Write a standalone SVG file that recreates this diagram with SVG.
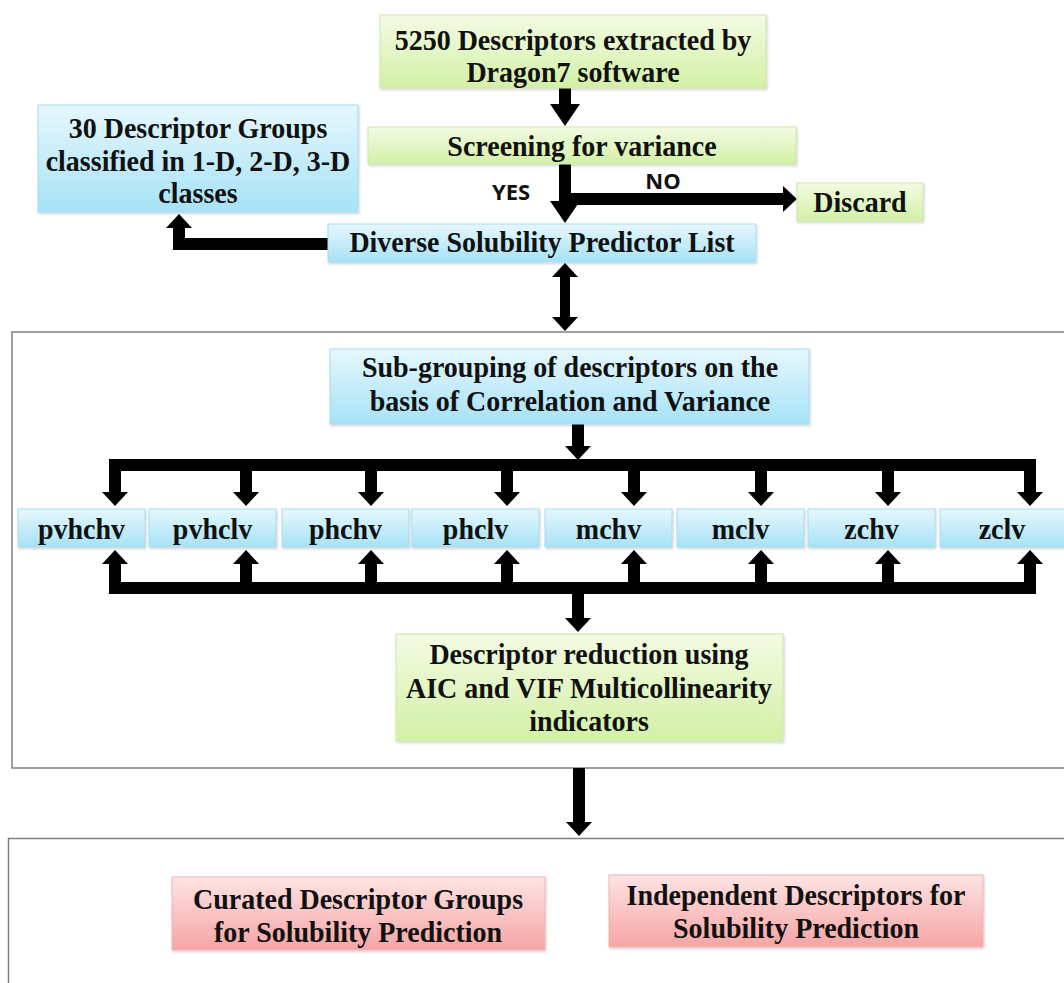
<svg xmlns="http://www.w3.org/2000/svg" width="1064" height="983" viewBox="0 0 1064 983">
  <style>
    .t { font-family: "Liberation Serif", "Times New Roman", serif; font-weight: bold; font-size: 28px; fill: #111; text-anchor: middle; }
    .s { font-family: "Open Sans", "Liberation Sans", sans-serif; font-weight: bold; font-size: 22px; fill: #111; text-anchor: middle; }
    .frame { fill: #fff; stroke: #7f7f7f; stroke-width: 1.5; }
    .green { fill: url(#gGreen); stroke: #cfe6a8; stroke-width: 1; filter: url(#sh); }
    .blue { fill: url(#gBlue); stroke: #a9dcef; stroke-width: 1; filter: url(#sh); }
    .pink { fill: url(#gPink); stroke: #f0b4b4; stroke-width: 1; filter: url(#sh); }
    .c { fill: none; stroke: #000; stroke-width: 12; stroke-linejoin: miter; stroke-linecap: butt; }
  </style>
  <defs>
    <linearGradient id="gGreen" x1="0" y1="0" x2="0" y2="1">
      <stop offset="0" stop-color="#f3fbe3"/>
      <stop offset="1" stop-color="#d3f0a6"/>
    </linearGradient>
    <linearGradient id="gBlue" x1="0" y1="0" x2="0" y2="1">
      <stop offset="0" stop-color="#e6f7fd"/>
      <stop offset="1" stop-color="#a6e2f6"/>
    </linearGradient>
    <linearGradient id="gPink" x1="0" y1="0" x2="0" y2="1">
      <stop offset="0" stop-color="#fde4e4"/>
      <stop offset="1" stop-color="#f6a4a4"/>
    </linearGradient>
    <filter id="sh" x="-5%" y="-10%" width="110%" height="130%">
      <feDropShadow dx="1" dy="1.5" stdDeviation="1" flood-color="#000" flood-opacity="0.18"/>
    </filter>
    <marker id="ah" viewBox="0 -13 14 26" refX="0" refY="0" markerWidth="14" markerHeight="26" markerUnits="userSpaceOnUse" orient="auto-start-reverse">
      <path d="M0,-13 L14,0 L0,13 Z" fill="#000"/>
    </marker>
    <marker id="ahb" viewBox="0 -15 22 30" refX="0" refY="0" markerWidth="22" markerHeight="30" markerUnits="userSpaceOnUse" orient="auto-start-reverse">
      <path d="M0,-15 L22,0 L0,15 Z" fill="#000"/>
    </marker>
  </defs>

  <rect width="1064" height="983" fill="#fff"/>

  <!-- stage frames -->
  <g id="frames">
    <rect class="frame" x="12" y="332" width="1080" height="436"/>
    <rect class="frame" x="8.5" y="838.5" width="1080" height="170"/>
  </g>

  <!-- connectors -->
  <g id="connectors">
    <path class="c" d="M565,88 V104" marker-end="url(#ahb)"/>
    <path class="c" d="M565,164 V201" marker-end="url(#ahb)"/>
    <path class="c" d="M565,199 H783" marker-end="url(#ah)"/>
    <path class="c" d="M328,244 H179 V228" marker-end="url(#ah)"/>
    <path class="c" style="stroke-width:10" d="M565,277 V317" marker-start="url(#ah)" marker-end="url(#ah)"/>
    <path class="c" d="M578,424 V446" marker-end="url(#ah)"/>
    <!-- distribution bus -->
    <path class="c" d="M115,492 V465 H1030 V492" marker-start="url(#ah)" marker-end="url(#ah)"/>
    <path class="c" d="M246,465 V492" marker-end="url(#ah)"/>
    <path class="c" d="M371,465 V492" marker-end="url(#ah)"/>
    <path class="c" d="M507,465 V492" marker-end="url(#ah)"/>
    <path class="c" d="M634,465 V492" marker-end="url(#ah)"/>
    <path class="c" d="M761,465 V492" marker-end="url(#ah)"/>
    <path class="c" d="M888,465 V492" marker-end="url(#ah)"/>
    <!-- collection bus -->
    <path class="c" d="M115,564 V588 H1030 V564" marker-start="url(#ah)" marker-end="url(#ah)"/>
    <path class="c" d="M246,588 V564" marker-end="url(#ah)"/>
    <path class="c" d="M371,588 V564" marker-end="url(#ah)"/>
    <path class="c" d="M507,588 V564" marker-end="url(#ah)"/>
    <path class="c" d="M634,588 V564" marker-end="url(#ah)"/>
    <path class="c" d="M761,588 V564" marker-end="url(#ah)"/>
    <path class="c" d="M888,588 V564" marker-end="url(#ah)"/>
    <path class="c" d="M578,588 V618" marker-end="url(#ah)"/>
    <path class="c" d="M579,768 V822" marker-end="url(#ah)"/>
    <text class="s" x="511" y="200">YES</text>
    <text class="s" x="663" y="189">NO</text>
  </g>

  <!-- nodes -->
  <g id="n-extract">
    <rect class="green" x="380" y="15" width="386" height="73"/>
    <text class="t" transform="translate(573,50) scale(1,1.05)">5250 Descriptors extracted by</text>
    <text class="t" transform="translate(573,82) scale(1,1.05)">Dragon7 software</text>
  </g>
  <g id="n-screen">
    <rect class="green" x="368" y="127" width="428" height="37"/>
    <text class="t" transform="translate(582,156) scale(1,1.05)">Screening for variance</text>
  </g>
  <g id="n-discard">
    <rect class="green" x="797" y="183" width="126" height="38"/>
    <text class="t" transform="translate(860,212) scale(1,1.05)">Discard</text>
  </g>
  <g id="n-diverse">
    <rect class="blue" x="328" y="224" width="428" height="38"/>
    <text class="t" transform="translate(542,252) scale(1,1.05)">Diverse Solubility Predictor List</text>
  </g>
  <g id="n-groups">
    <rect class="blue" x="38" y="105" width="320" height="107"/>
    <text class="t" transform="translate(198,138) scale(1,1.05)">30 Descriptor Groups</text>
    <text class="t" transform="translate(198,171) scale(1,1.05)">classified in 1-D, 2-D, 3-D</text>
    <text class="t" transform="translate(198,203) scale(1,1.05)">classes</text>
  </g>
  <g id="n-subgroup">
    <rect class="blue" x="330" y="349" width="479" height="75"/>
    <text class="t" transform="translate(570,377) scale(1,1.05)">Sub-grouping of descriptors on the</text>
    <text class="t" transform="translate(570,411) scale(1,1.05)">basis of Correlation and Variance</text>
  </g>
  <g id="n-pvhchv">
    <rect class="blue" x="18" y="509" width="127" height="38"/>
    <text class="t" transform="translate(81.5,539) scale(1,1.05)">pvhchv</text>
  </g>
  <g id="n-pvhclv">
    <rect class="blue" x="149" y="509" width="127" height="38"/>
    <text class="t" transform="translate(212.5,539) scale(1,1.05)">pvhclv</text>
  </g>
  <g id="n-phchv">
    <rect class="blue" x="282" y="509" width="127" height="38"/>
    <text class="t" transform="translate(345.5,539) scale(1,1.05)">phchv</text>
  </g>
  <g id="n-phclv">
    <rect class="blue" x="412" y="509" width="127" height="38"/>
    <text class="t" transform="translate(475.5,539) scale(1,1.05)">phclv</text>
  </g>
  <g id="n-mchv">
    <rect class="blue" x="545" y="509" width="127" height="38"/>
    <text class="t" transform="translate(608.5,539) scale(1,1.05)">mchv</text>
  </g>
  <g id="n-mclv">
    <rect class="blue" x="677" y="509" width="127" height="38"/>
    <text class="t" transform="translate(740.5,539) scale(1,1.05)">mclv</text>
  </g>
  <g id="n-zchv">
    <rect class="blue" x="808" y="509" width="127" height="38"/>
    <text class="t" transform="translate(871.5,539) scale(1,1.05)">zchv</text>
  </g>
  <g id="n-zclv">
    <rect class="blue" x="940" y="509" width="130" height="38"/>
    <text class="t" transform="translate(1002,539) scale(1,1.05)">zclv</text>
  </g>
  <g id="n-reduction">
    <rect class="green" x="396" y="634" width="387" height="107"/>
    <text class="t" transform="translate(589,664) scale(1,1.05)">Descriptor reduction using</text>
    <text class="t" transform="translate(589,698) scale(1,1.05)">AIC and VIF Multicollinearity</text>
    <text class="t" transform="translate(589,731) scale(1,1.05)">indicators</text>
  </g>
  <g id="n-curated">
    <rect class="pink" x="172" y="877" width="373" height="73"/>
    <text class="t" transform="translate(358,909) scale(1,1.05)">Curated Descriptor Groups</text>
    <text class="t" transform="translate(358,942) scale(1,1.05)">for Solubility Prediction</text>
  </g>
  <g id="n-independent">
    <rect class="pink" x="609" y="875" width="374" height="72"/>
    <text class="t" transform="translate(796,905) scale(1,1.05)">Independent Descriptors for</text>
    <text class="t" transform="translate(796,938) scale(1,1.05)">Solubility Prediction</text>
  </g>
</svg>
